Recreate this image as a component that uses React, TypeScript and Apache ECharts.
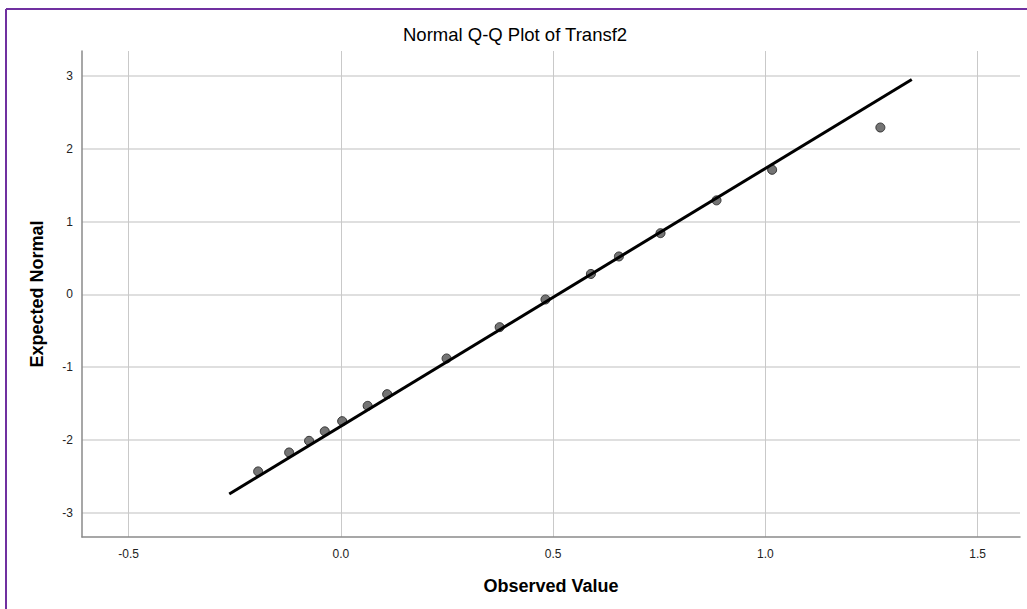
import React, { useEffect, useRef } from "react";
import * as echarts from "echarts";

const observedValues = [-0.195, -0.122, -0.075, -0.038, 0.003, 0.063, 0.109, 0.249, 0.374, 0.482, 0.589, 0.655, 0.753, 0.885, 1.016, 1.271];
const expectedNormal = [-2.43, -2.17, -2.01, -1.88, -1.74, -1.53, -1.37, -0.88, -0.45, -0.07, 0.28, 0.52, 0.84, 1.29, 1.71, 2.29];
const refLineX = [-0.263, 1.345];
const refLineY = [-2.74, 2.95];

const titleText = "Normal Q-Q Plot of Transf2";
const xAxisName = "Observed Value";
const yAxisName = "Expected Normal";

export default function App() {
  const ref = useRef<HTMLDivElement>(null);

  useEffect(() => {
    if (!ref.current) return;
    const chart = echarts.init(ref.current, undefined, { renderer: "svg" });
    const points = observedValues.map((x, i) => [x, expectedNormal[i]]);
    const line = refLineX.map((x, i) => [x, refLineY[i]]);
    const font = "Arial, 'Liberation Sans', Helvetica, sans-serif";
    chart.setOption({
      animation: false,
      backgroundColor: "#ffffff",
      textStyle: { fontFamily: font },
      title: {
        text: titleText,
        left: 403,
        top: 25,
        padding: 0,
        textStyle: { fontSize: 18.5, fontWeight: "normal", color: "#000", fontFamily: font },
      },
      grid: { left: 82, top: 51, right: 7, bottom: 72, containLabel: false },
      xAxis: {
        type: "value",
        min: -0.61,
        max: 1.6,
        name: xAxisName,
        nameLocation: "middle",
        nameGap: 40,
        nameTextStyle: { fontSize: 18, fontWeight: "bold", color: "#000", fontFamily: font },
        axisLine: { show: true, onZero: false, lineStyle: { color: "#8a8a8a", width: 1.5 } },
        axisTick: { show: false },
        axisLabel: {
          showMinLabel: false,
          showMaxLabel: false,
          fontSize: 12,
          color: "#222",
          margin: 11,
          formatter: (v: number) => v.toFixed(1),
        },
        splitLine: { show: true, showMinLine: false, showMaxLine: false, lineStyle: { color: "#c9c9c9", width: 1 } },
      },
      yAxis: {
        type: "value",
        min: -3.33,
        max: 3.34,
        name: yAxisName,
        nameLocation: "middle",
        nameGap: 36,
        nameTextStyle: { fontSize: 18, fontWeight: "bold", color: "#000", fontFamily: font },
        axisLine: { show: true, onZero: false, lineStyle: { color: "#8a8a8a", width: 1.5 } },
        axisTick: { show: false },
        axisLabel: {
          showMinLabel: false,
          showMaxLabel: false,
          fontSize: 12,
          color: "#222",
          margin: 9,
          formatter: (v: number) => String(Math.round(v)),
        },
        splitLine: { show: true, showMinLine: false, showMaxLine: false, lineStyle: { color: "#d4d4d4", width: 1.5 } },
      },
      graphic: [
        { type: "line", shape: { x1: 6, y1: 9, x2: 1027, y2: 9 }, style: { stroke: "#7030a0", lineWidth: 2 } },
        { type: "line", shape: { x1: 6, y1: 9, x2: 6, y2: 609 }, style: { stroke: "#7030a0", lineWidth: 2 } },
      ],
      series: [
        {
          type: "scatter",
          data: points,
          symbol: "circle",
          symbolSize: 9,
          itemStyle: { color: "#747474", borderColor: "#333333", borderWidth: 1, opacity: 1 },
          z: 2,
        },
        {
          type: "line",
          data: line,
          showSymbol: false,
          symbol: "none",
          lineStyle: { color: "#000000", width: 3 },
          z: 3,
        },
      ],
    });
    return () => chart.dispose();
  }, []);

  return (
    <div
      ref={ref}
      style={{ position: "absolute", left: 0, top: 0, width: 1027, height: 609 }}
    />
  );
}
